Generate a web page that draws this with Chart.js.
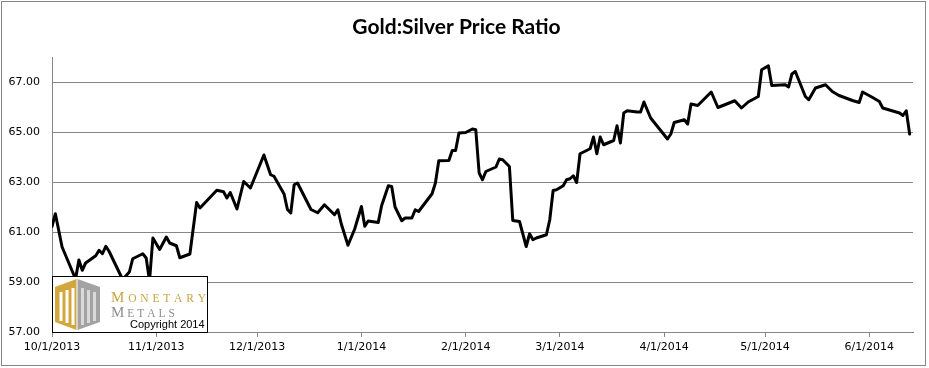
<!DOCTYPE html>
<html>
<head>
<meta charset="utf-8">
<script src="https://cdn.jsdelivr.net/npm/chart.js@4.4.1/dist/chart.umd.min.js"></script>
<style>
  html, body { margin: 0; padding: 0; background: #ffffff; }
  #wrap { width: 929px; height: 368px; }
</style>
</head>
<body>
<div id="wrap"><canvas id="c" width="929" height="368"></canvas></div>
<script>
// ---------- DATA ----------
const dates = [
  '2013-10-01','2013-10-02','2013-10-04','2013-10-08','2013-10-09','2013-10-10','2013-10-11',
  '2013-10-14','2013-10-15','2013-10-16','2013-10-17','2013-10-18','2013-10-22','2013-10-24',
  '2013-10-25','2013-10-28','2013-10-29','2013-10-30','2013-10-31','2013-11-02','2013-11-04',
  '2013-11-05','2013-11-07','2013-11-08','2013-11-11','2013-11-13','2013-11-14','2013-11-19',
  '2013-11-21','2013-11-22','2013-11-23','2013-11-25','2013-11-27','2013-11-29','2013-12-03',
  '2013-12-05','2013-12-06','2013-12-09','2013-12-10','2013-12-11','2013-12-12','2013-12-13',
  '2013-12-17','2013-12-19','2013-12-21','2013-12-24','2013-12-25','2013-12-26','2013-12-28',
  '2013-12-30','2014-01-01','2014-01-02','2014-01-03','2014-01-06','2014-01-07','2014-01-09',
  '2014-01-10','2014-01-11','2014-01-13','2014-01-14','2014-01-16','2014-01-17','2014-01-18',
  '2014-01-22','2014-01-23','2014-01-24','2014-01-27','2014-01-28','2014-01-29','2014-01-30',
  '2014-02-01','2014-02-03','2014-02-04','2014-02-05','2014-02-06','2014-02-07','2014-02-10',
  '2014-02-11','2014-02-12','2014-02-14','2014-02-15','2014-02-17','2014-02-19','2014-02-20',
  '2014-02-21','2014-02-22','2014-02-25','2014-02-26','2014-02-27','2014-02-28','2014-03-02',
  '2014-03-03','2014-03-04','2014-03-05','2014-03-06','2014-03-07','2014-03-10','2014-03-11',
  '2014-03-12','2014-03-13','2014-03-14','2014-03-17','2014-03-18','2014-03-19','2014-03-20',
  '2014-03-21','2014-03-24','2014-03-25','2014-03-26','2014-03-28','2014-04-02','2014-04-03',
  '2014-04-04','2014-04-07','2014-04-08','2014-04-09','2014-04-11','2014-04-15','2014-04-17',
  '2014-04-22','2014-04-24','2014-04-26','2014-04-29','2014-04-30','2014-05-02','2014-05-03',
  '2014-05-07','2014-05-08','2014-05-09','2014-05-10','2014-05-13','2014-05-14','2014-05-16',
  '2014-05-19','2014-05-21','2014-05-23','2014-05-27','2014-05-29','2014-05-30','2014-06-02',
  '2014-06-04','2014-06-05','2014-06-10','2014-06-11','2014-06-12','2014-06-13'
];
const ratio = [
  61.22, 61.73, 60.40, 59.12, 59.88, 59.47, 59.76,
  60.05, 60.27, 60.13, 60.43, 60.22, 59.10, 59.40,
  59.93, 60.13, 59.96, 59.05, 60.76, 60.30, 60.80,
  60.56, 60.45, 59.97, 60.12, 62.18, 61.96, 62.67,
  62.61, 62.36, 62.58, 61.92, 63.02, 62.76, 64.08,
  63.29, 63.23, 62.52, 61.90, 61.76, 62.89, 62.96,
  61.90, 61.77, 62.09, 61.69, 61.89, 61.33, 60.47,
  61.12, 62.02, 61.23, 61.44, 61.38, 62.05, 62.85,
  62.82, 62.00, 61.45, 61.56, 61.56, 61.89, 61.82,
  62.53, 62.96, 63.85, 63.86, 64.26, 64.26, 64.96,
  64.98, 65.12, 65.09, 63.36, 63.09, 63.42, 63.60,
  63.92, 63.89, 63.62, 61.46, 61.42, 60.42, 60.93,
  60.69, 60.76, 60.89, 61.49, 62.66, 62.69, 62.85,
  63.09, 63.13, 63.25, 62.98, 64.13, 64.33, 64.80,
  64.13, 64.80, 64.49, 64.66, 65.25, 64.56, 65.76,
  65.85, 65.80, 65.80, 66.20, 65.56, 64.72, 64.92,
  65.38, 65.49, 65.32, 66.12, 66.06, 66.60, 65.98,
  66.25, 65.96, 66.20, 66.42, 67.49, 67.65, 66.86,
  66.89, 66.80, 67.32, 67.42, 66.42, 66.29, 66.76,
  66.89, 66.62, 66.46, 66.26, 66.18, 66.60, 66.38,
  66.22, 65.96, 65.76, 65.66, 65.85, 64.92
];
const monthTicks = ['2013-10-01','2013-11-01','2013-12-01','2014-01-01','2014-02-01',
                    '2014-03-01','2014-04-01','2014-05-01','2014-06-01'];
const yTicks = [57, 59, 61, 63, 65, 67];
const axisStart = '2013-10-01';
const axisEnd = '2014-06-14';
const yMin = 57, yMax = 68;
const titleText = 'Gold:Silver Price Ratio';

// ---------- helpers ----------
function dayNum(s) {
  const p = s.split('-').map(Number);
  const a = axisStart.split('-').map(Number);
  return (Date.UTC(p[0], p[1] - 1, p[2]) - Date.UTC(a[0], a[1] - 1, a[2])) / 86400000;
}
function dayLabel(n) {
  const a = axisStart.split('-').map(Number);
  const d = new Date(Date.UTC(a[0], a[1] - 1, a[2]) + Math.round(n) * 86400000);
  return (d.getUTCMonth() + 1) + '/' + d.getUTCDate() + '/' + d.getUTCFullYear();
}
const points = dates.map((d, i) => ({ x: dayNum(d), y: ratio[i] }));
const GRID = '#868686';

function spacedText(ctx, parts, x, y, targetW) {
  let total = 0, n = 0;
  const chars = [];
  parts.forEach(p => { for (const ch of p.t) { ctx.font = p.font; const w = ctx.measureText(ch).width; chars.push({ch, font: p.font, w}); total += w; n++; } });
  const gap = n > 1 ? (targetW - total) / (n - 1) : 0;
  let cx = x;
  chars.forEach(c => { ctx.font = c.font; ctx.fillText(c.ch, cx, y); cx += c.w + gap; });
}

const decor = {
  id: 'decor',
  beforeDraw(chart) {
    const ctx = chart.ctx;
    ctx.save();
    ctx.fillStyle = '#ffffff';
    ctx.fillRect(0, 0, chart.width, chart.height);
    ctx.restore();
  },
  afterDraw(chart) {
    const ctx = chart.ctx;
    ctx.save();
    ctx.strokeStyle = GRID; ctx.lineWidth = 1;
    ctx.strokeRect(1.5, 1.5, 924, 364);
    ctx.fillStyle = '#ffffff';
    ctx.fillRect(52, 276, 156, 57);
    ctx.strokeStyle = '#000000';
    ctx.strokeRect(52.5, 276.5, 155, 56);
    const gold = '#D2A83E', gray = '#A3A3A3';
    ctx.fillStyle = gold;
    ctx.beginPath(); ctx.moveTo(76.5, 279); ctx.lineTo(55, 287); ctx.lineTo(55, 322); ctx.lineTo(76.5, 330); ctx.closePath(); ctx.fill();
    ctx.fillStyle = gray;
    ctx.beginPath(); ctx.moveTo(77.5, 279); ctx.lineTo(100, 287); ctx.lineTo(100, 322); ctx.lineTo(77.5, 330); ctx.closePath(); ctx.fill();
    ctx.fillStyle = '#ffffff';
    [[59.5, 292, 3, 29], [65.5, 290, 3, 33], [71.5, 288, 3, 37]].forEach(r => ctx.fillRect(r[0], r[1], r[2], r[3]));
    ctx.fillStyle = '#D9D9D9';
    [[81, 288, 3, 37], [87, 290, 3, 33], [93, 292, 3, 29]].forEach(r => ctx.fillRect(r[0], r[1], r[2], r[3]));
    ctx.textBaseline = 'alphabetic';
    ctx.fillStyle = '#C9A443';
    spacedText(ctx, [{t: 'M', font: '15px "Liberation Serif"'}, {t: 'ONETARY', font: '11.5px "Liberation Serif"'}], 111, 302, 95);
    ctx.fillStyle = '#8E8E8E';
    spacedText(ctx, [{t: 'M', font: '15px "Liberation Serif"'}, {t: 'ETALS', font: '11.5px "Liberation Serif"'}], 111, 317, 64);
    ctx.fillStyle = '#000000';
    ctx.font = '11px "Liberation Sans"';
    ctx.fillText('Copyright 2014', 130, 328);
    ctx.restore();
  }
};

new Chart(document.getElementById('c'), {
  type: 'line',
  data: {
    datasets: [{
      data: points,
      borderColor: '#000000',
      borderWidth: 3,
      pointRadius: 0,
      tension: 0,
      borderJoinStyle: 'round',
      borderCapStyle: 'round'
    }]
  },
  options: {
    responsive: false,
    animation: false,
    devicePixelRatio: 1,
    layout: { padding: { left: 0, right: 16, top: 0, bottom: 0 } },
    plugins: {
      legend: { display: false },
      tooltip: { enabled: false },
      title: {
        display: true,
        text: titleText,
        color: '#000000',
        font: { family: 'Lato', weight: 'bold', size: 21 },
        padding: { top: 14.5, bottom: 17.3 }
      }
    },
    scales: {
      x: {
        type: 'linear',
        min: dayNum(axisStart),
        max: dayNum(axisEnd),
        afterBuildTicks: s => { s.ticks = monthTicks.map(m => ({ value: dayNum(m) })); },
        afterFit: s => { s.height = 36; },
        grid: { drawOnChartArea: false, drawTicks: true, tickLength: 5, color: GRID },
        border: { color: GRID, width: 1 },
        ticks: {
          callback: v => dayLabel(v),
          font: { family: 'DejaVu Sans', size: 11 },
          color: '#000000',
          padding: 4,
          maxRotation: 0,
          autoSkip: false
        }
      },
      y: {
        min: yMin,
        max: yMax,
        afterBuildTicks: s => { s.ticks = yTicks.map(v => ({ value: v })); },
        afterFit: s => { s.width = 52; },
        grid: { color: GRID, drawTicks: false },
        border: { color: GRID, width: 1 },
        ticks: {
          callback: v => Number(v).toFixed(2),
          font: { family: 'DejaVu Sans', size: 11 },
          color: '#000000',
          padding: 12
        }
      }
    }
  },
  plugins: [decor]
});
</script>
</body>
</html>
